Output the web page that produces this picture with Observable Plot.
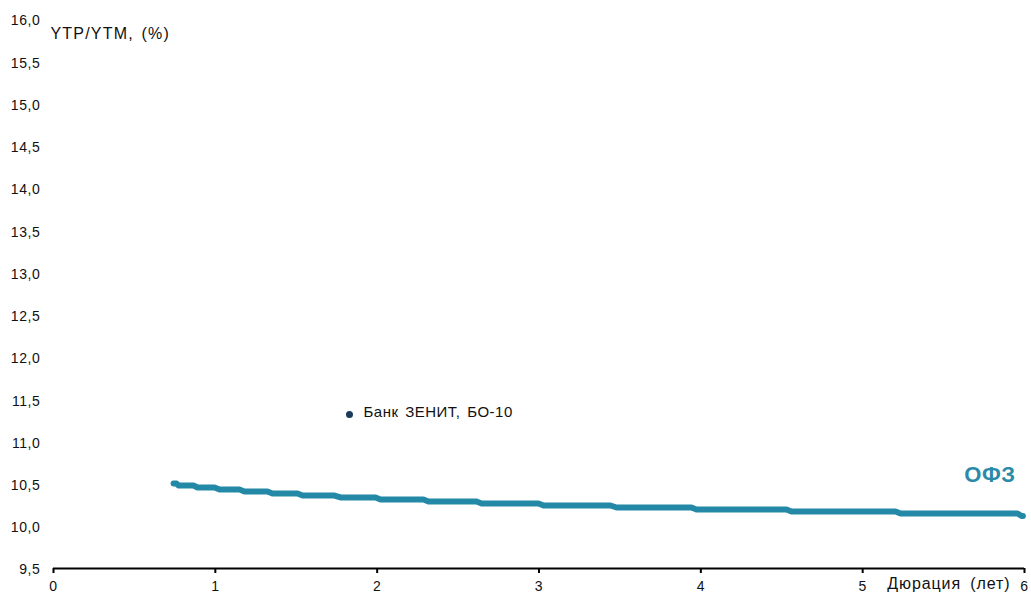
<!DOCTYPE html>
<html><head><meta charset="utf-8">
<script src="https://cdn.jsdelivr.net/npm/d3@7"></script>
<script src="https://cdn.jsdelivr.net/npm/@observablehq/plot@0.6"></script>
<style>
html,body{margin:0;padding:0;background:#fff;}
svg{font-family:"Liberation Sans",Arial,sans-serif;}
.ticklbl text{letter-spacing:0.6px;}
.ytitle text{letter-spacing:1.2px;word-spacing:2px;}
.bondlbl text{letter-spacing:0.5px;word-spacing:2px;}
.xtitle text{letter-spacing:0.9px;word-spacing:4px;}
.ofzlbl text{letter-spacing:0.5px;}
</style>
</head><body>
<div id="chart"></div>
<script>
// OFZ curve: each yield level with the duration where it starts and ends
const ofzLevelStart = [0.742, 0.772, 0.890, 1.026, 1.180, 1.353, 1.539, 1.773, 2.021, 2.317, 2.645, 3.028, 3.479, 3.973, 4.560, 5.234, 5.982];
const ofzLevelEnd   = [0.760, 0.865, 0.995, 1.149, 1.322, 1.508, 1.736, 1.990, 2.286, 2.614, 2.997, 3.442, 3.942, 4.529, 5.203, 5.957, 5.990];
const ofzYield      = [10.506, 10.483, 10.459, 10.435, 10.412, 10.388, 10.364, 10.341, 10.317, 10.293, 10.270, 10.246, 10.222, 10.199, 10.175, 10.151, 10.122];

// Bond point
const bondNames = ["Банк ЗЕНИТ, БО-10"];
const bondDuration = [1.829];
const bondYield = [11.323];

const yTicks = [9.5,10,10.5,11,11.5,12,12.5,13,13.5,14,14.5,15,15.5,16];
const xTicks = [0,1,2,3,4,5,6];

const ofzPoints = [];
ofzYield.forEach((y, i) => {
  ofzPoints.push({x: ofzLevelStart[i], y});
  ofzPoints.push({x: ofzLevelEnd[i], y});
});
const bonds = bondNames.map((name, i) => ({name, x: bondDuration[i], y: bondYield[i]}));

const fmt = d => d.toFixed(1).replace(".", ",");

const chart = Plot.plot({
  width: 1031,
  height: 593,
  marginLeft: 53,
  marginRight: 7,
  marginTop: 19,
  marginBottom: 25,
  style: {fontFamily: '"Liberation Sans", Arial, sans-serif', background: "#fff", overflow: "visible"},
  x: {domain: [0, 6]},
  y: {domain: [9.5, 16]},
  marks: [
    Plot.axisY({ticks: yTicks, tickFormat: fmt, tickSize: 0, tickPadding: 13, fontSize: 14, dy: 1.5, fill: "#111", label: null, className: "ticklbl"}),
    Plot.axisX({ticks: xTicks, tickFormat: d => String(d), tickSize: 5, tickPadding: 8, fontSize: 14, strokeWidth: 2, stroke: "#000", fill: "#111", label: null, className: "ticklbl"}),
    Plot.ruleY([9.5], {stroke: "#000", strokeWidth: 2}),
    Plot.line(ofzPoints, {x: "x", y: "y", stroke: "#2389a7", strokeWidth: 6, strokeLinecap: "round", strokeLinejoin: "round"}),
    Plot.dot(bonds, {x: "x", y: "y", r: 3.5, fill: "#1b3a5c", stroke: null}),
    Plot.text(bonds, {x: "x", y: "y", text: "name", dx: 14, dy: -2, textAnchor: "start", fontSize: 15, fill: "#111", className: "bondlbl"}),
    Plot.text(["ОФЗ"], {frameAnchor: "bottom-right", text: d => d, dx: -9, dy: -94, lineAnchor: "middle", textAnchor: "end", fontSize: 22, fontWeight: "bold", fill: "#2a8aa8", className: "ofzlbl"}),
    Plot.text(["YTP/YTM, (%)"], {frameAnchor: "top-left", text: d => d, dx: -3, dy: 14, lineAnchor: "middle", textAnchor: "start", fontSize: 16, fill: "#111", className: "ytitle"}),
    Plot.text(["Дюрация (лет)"], {frameAnchor: "bottom-right", text: d => d, dx: -14, dy: 15, lineAnchor: "middle", textAnchor: "end", fontSize: 16, fill: "#111", className: "xtitle"})
  ]
});
document.getElementById("chart").appendChild(chart);
</script>
</body></html>
